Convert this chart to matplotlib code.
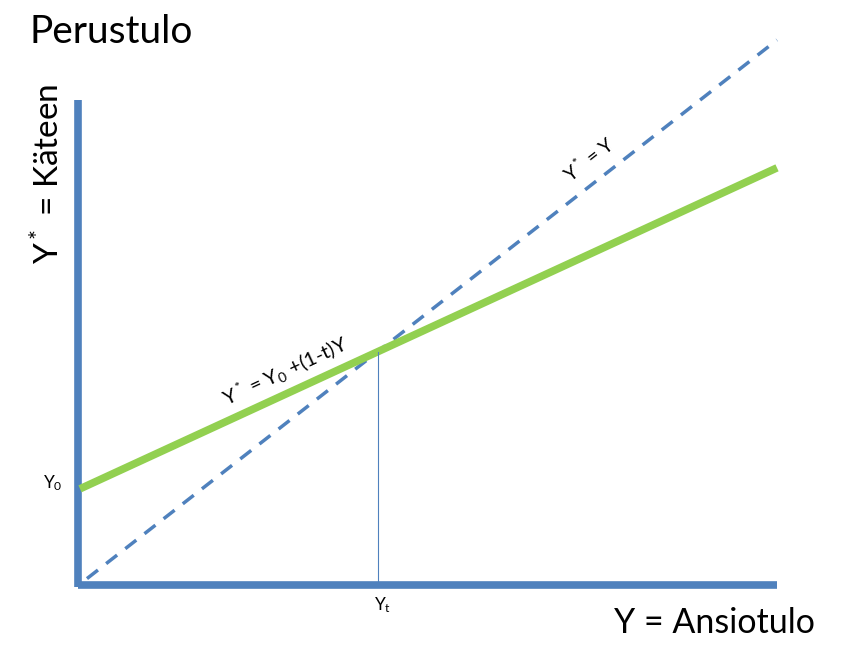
import numpy as np
import matplotlib
matplotlib.use("Agg")
import matplotlib.pyplot as plt

plt.rcParams['font.family'] = ['Lato', 'DejaVu Sans']
plt.rcParams['mathtext.fontset'] = 'custom'
plt.rcParams['mathtext.rm'] = 'Lato'
plt.rcParams['mathtext.it'] = 'Lato'

# model values (abstract units)
y_max = 10.0       # end of the income axis
y_star_top = 8.9   # top of the vertical axis
Y0 = 1.75          # basic income
t = 0.41           # flat tax rate
Yt = Y0 / t        # break-even income

blue = '#4F81BD'
green = '#92D050'

fig = plt.figure(figsize=(8.64, 6.48), dpi=100)
ax = fig.add_axes([0, 0, 1, 1])
ax.set_xlim(-1.148, 11.248)
ax.set_ylim(-1.176, 10.735)
ax.axis('off')

# axes drawn as thick blue lines
ax.plot([-0.03, -0.03], [-0.05, y_star_top], color=blue, lw=5.5, solid_capstyle='butt')
ax.plot([-0.03, y_max], [-0.02, -0.02], color=blue, lw=5.5, solid_capstyle='butt')

# 45 degree line Y* = Y
x_d = np.array([0.1, y_max])
ax.plot(x_d, x_d, color=blue, lw=2.5, linestyle=(0, (4, 3)))

# Y* = Y0 + (1-t)Y
x_g = np.array([0.0, y_max])
ax.plot(x_g, Y0 + (1 - t) * x_g, color=green, lw=5.5, solid_capstyle='butt')

# break-even marker
ax.plot([Yt, Yt], [0, Y0 + (1 - t) * Yt], color=blue, lw=0.8)

# labels
ax.text(-0.72, 10.15, 'Perustulo', fontsize=28, va='center', ha='left')
ax.text(-0.45, 7.55, r'Y$^*$ = Käteen', fontsize=24, rotation=90, va='center', ha='center')
ax.text(10.55, -0.72, 'Y = Ansiotulo', fontsize=24.5, va='center', ha='right')
ax.text(-0.39, Y0 + 0.11, r'Y$_0$', fontsize=12.5, va='center', ha='center')
ax.text(Yt + 0.07, -0.39, r'Y$_\mathrm{t}$', fontsize=12.5, va='center', ha='center')
ax.text(7.3, 7.8, r'Y$^*$ = Y', fontsize=14, rotation=38, va='center', ha='center')
ax.text(2.95, 3.9, r'Y$^*$ = Y$_0$ +(1-t)Y', fontsize=14.5, rotation=25, va='center', ha='center')

plt.savefig('out.png', dpi=100)
